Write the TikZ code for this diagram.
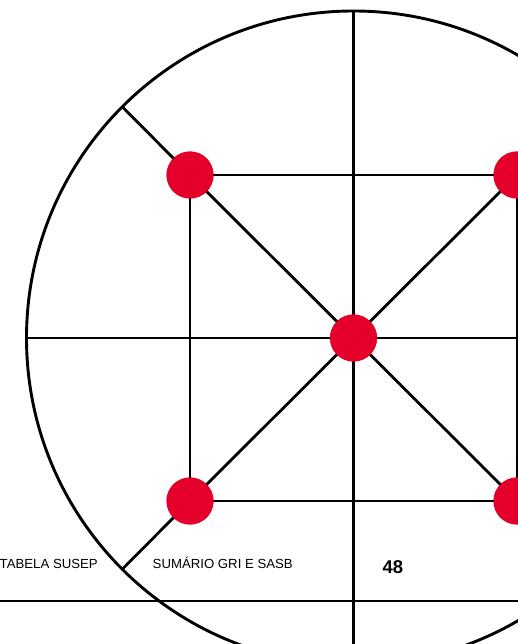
\documentclass[tikz,border=0pt]{standalone}
\usepackage{fontspec}
\setmainfont{Liberation Sans}
\definecolor{dotred}{RGB}{228,0,43}
\tikzset{
  ring/.style={line width=2.9pt, black},
  spoke/.style={line width=2.8pt, black},
  dotnode/.style={circle, fill=dotred, inner sep=0pt, minimum size=47pt},
  foot/.style={anchor=base west, inner sep=0pt, font=\fontsize{13.2}{15}\selectfont},
  pagenum/.style={anchor=base west, inner sep=0pt, font=\bfseries\fontsize{18.5}{20}\selectfont}
}
\begin{document}
\begin{tikzpicture}[x=1pt,y=-1pt]
\useasboundingbox (0,0) rectangle (518,644);
\clip (0,0) rectangle (518,644);
% circle-boundary coordinates
\coordinate (top) at (353.5,11);
\coordinate (bot) at (353.5,665);
\coordinate (lft) at (26.5,338);
\coordinate (rgt) at (680.5,338);
\coordinate (etl) at (122.3,106.8);
\coordinate (ebl) at (122.3,569.2);
\coordinate (etr) at (584.7,106.8);
\coordinate (ebr) at (584.7,569.2);
% dot positions
\node[dotnode] (c) at (353.5,338) {};
\node[dotnode] (tl) at (190,175) {};
\node[dotnode] (tr) at (517,175) {};
\node[dotnode] (bl) at (190,501) {};
\node[dotnode] (br) at (517,501) {};
% footer line
\draw[line width=1.1pt] (0,601) -- (518,601);
% circle and lines
\draw[ring] (353.5,338) circle (327);
\draw[spoke] (top) -- (bot);
\draw[spoke] (lft) -- (rgt);
\draw[spoke] (etl) -- (tl.center) -- (c.center) -- (br.center) -- (ebr);
\draw[spoke] (ebl) -- (bl.center) -- (c.center) -- (tr.center) -- (etr);
\draw[spoke] (tl.center) -- (tr.center) -- (br.center) -- (bl.center) -- cycle;
% dots on top of the lines
\foreach \n in {c,tl,tr,bl,br} \fill[dotred] (\n.center) circle (23.5);
% footer texts
\node[foot] (t1) at (-0.5,568) {TABELA SUSEP};
\node[foot] (t2) at (152.5,568) {SUMÁRIO GRI E SASB};
\node[pagenum] (t3) at (382.5,573) {48};
\end{tikzpicture}
\end{document}
